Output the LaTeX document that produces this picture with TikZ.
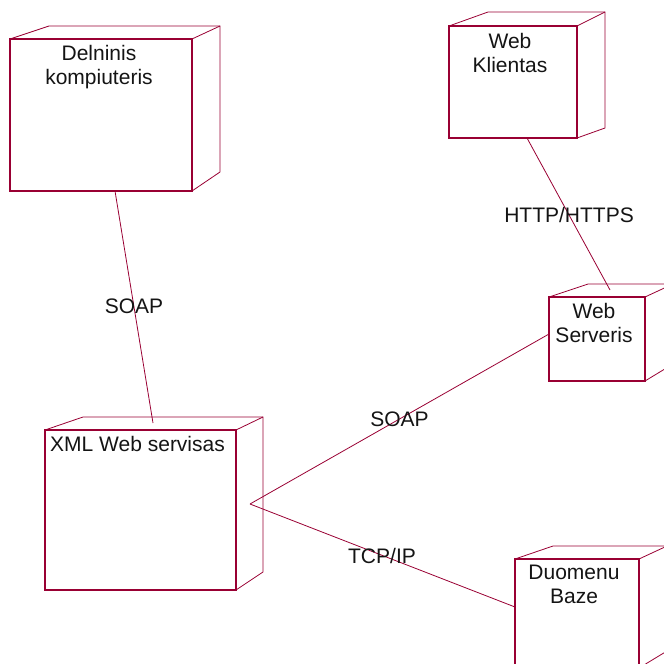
\documentclass[tikz,border=0pt]{standalone}
\usepackage{fontspec}
\setmainfont{Liberation Sans}
\usetikzlibrary{calc}
\definecolor{rose}{RGB}{153,0,51}
\begin{document}
\begin{tikzpicture}[x=1pt,y=-1pt,
  front/.style={draw=rose, line width=1.1pt, inner sep=0pt, outer sep=0pt},
  depth/.style={draw=rose, line width=0.8pt, line join=miter},
  link/.style={draw=rose, line width=0.8pt},
  title/.style={font=\fontsize{21}{24}\selectfont, align=center, inner sep=0pt, anchor=north, text=black!92},
  lbl/.style={font=\fontsize{21}{24}\selectfont, inner sep=0pt, anchor=base, text=black!92}]
\useasboundingbox (0,0) rectangle (664,664);
\clip (0,0) rectangle (664,664);

% Delninis kompiuteris
\node[front, minimum width=182pt, minimum height=152pt] (dk) at (101,115) {};
\draw[depth] (dk.north west) -- ++(39,-13) -- ($(dk.north east)+(28,-13)$) -- ($(dk.south east)+(28,-19)$) -- (dk.south east);
\draw[depth] (dk.north east) -- ++(28,-13);
\node[title] (dkt) at ($(dk.north)+(-2,6)$) {Delninis\\kompiuteris};

% Web Klientas
\node[front, minimum width=128pt, minimum height=112pt] (wk) at (513,82) {};
\draw[depth] (wk.north west) -- ++(39,-14) -- ($(wk.north east)+(28,-14)$) -- ($(wk.south east)+(28,-10)$) -- (wk.south east);
\draw[depth] (wk.north east) -- ++(28,-14);
\node[title] (wkt) at ($(wk.north)+(-3,7)$) {Web\\Klientas};

% Web Serveris
\node[front, minimum width=96pt, minimum height=84pt] (ws) at (597,339) {};
\draw[depth] (ws.north west) -- ++(39,-13) -- ($(ws.north east)+(28,-13)$) -- ($(ws.south east)+(28,-17)$) -- (ws.south east);
\draw[depth] (ws.north east) -- ++(28,-13);
\node[title] (wst) at ($(ws.north)+(-3,6)$) {Web\\Serveris};

% XML Web servisas
\node[front, minimum width=191pt, minimum height=160pt] (xml) at (140.5,510) {};
\draw[depth] (xml.north west) -- ++(38,-13) -- ($(xml.north east)+(27,-13)$) -- ($(xml.south east)+(27,-18)$) -- (xml.south east);
\draw[depth] (xml.north east) -- ++(27,-13);
\node[title, anchor=north west] (xmlt) at ($(xml.north west)+(5,6)$) {XML Web servisas};

% Duomenu Baze
\node[front, minimum width=124pt, minimum height=109pt] (db) at (577,613.5) {};
\draw[depth] (db.north west) -- ++(38,-13) -- ($(db.north east)+(28,-13)$) -- ($(db.south east)+(28,-17)$) -- (db.south east);
\draw[depth] (db.north east) -- ++(28,-13);
\node[title] (dbt) at ($(db.north)+(-3,6)$) {Duomenu\\Baze};

% connector end points
\coordinate (dkp) at ($(dk.south west)+(105,0)$);
\coordinate (xtop) at (153,423);
\coordinate (wkp) at ($(wk.south)+(14,0)$);
\coordinate (wstop) at (610,290);
\coordinate (xp) at (250,504);
\coordinate (wsp) at ($(ws.west)+(0,-5)$);
\coordinate (dbp) at ($(db.west)+(0,-6.5)$);

\draw[link] (dkp) -- (xtop);
\draw[link] (wkp) -- (wstop);
\draw[link] (xp) -- (wsp);
\draw[link] (xp) -- (dbp);

\node[lbl] (l1) at (134,313) {SOAP};
\node[lbl] (l2) at (569,222) {HTTP/HTTPS};
\node[lbl] (l3) at (399.5,426) {SOAP};
\node[lbl] (l4) at (382,563) {TCP/IP};
\end{tikzpicture}
\end{document}
